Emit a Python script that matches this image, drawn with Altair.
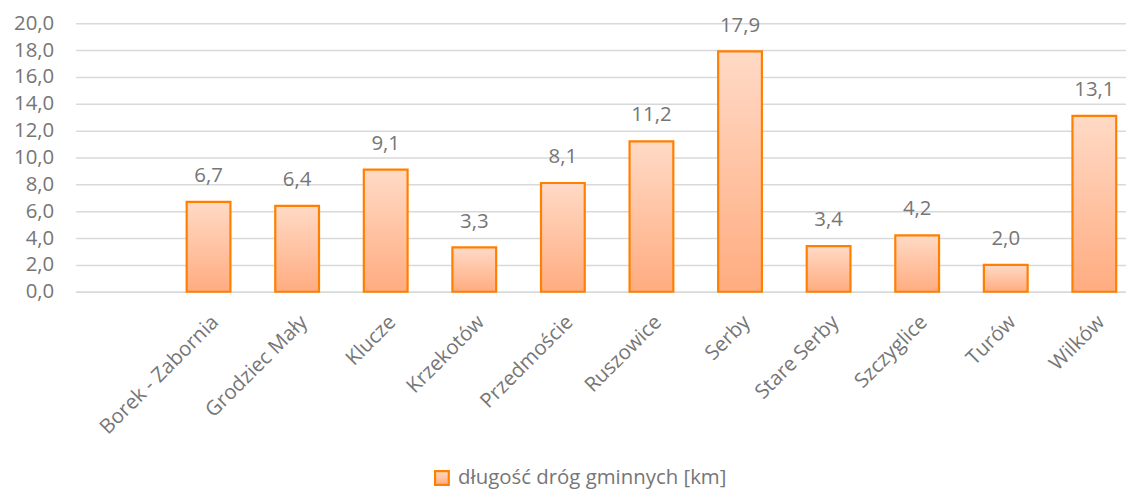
import altair as alt
import pandas as pd

categories = ["Borek - Zabornia", "Grodziec Mały", "Klucze", "Krzekotów", "Przedmoście",
              "Ruszowice", "Serby", "Stare Serby", "Szczyglice", "Turów", "Wilków"]
values = [6.7, 6.4, 9.1, 3.3, 8.1, 11.2, 17.9, 3.4, 4.2, 2.0, 13.1]
series_name = "długość dróg gminnych [km]"
y_ticks = [0, 2, 4, 6, 8, 10, 12, 14, 16, 18, 20]

df = pd.DataFrame({"kategoria": categories, "wartosc": values, "seria": series_name})

FONT = "Open Sans"
TXT = "#767676"
FS = 20.5

gradient = {
    "x1": 0, "y1": 0, "x2": 0, "y2": 1, "gradient": "linear",
    "stops": [{"offset": 0, "color": "#FFDAC6"}, {"offset": 1, "color": "#FFAC80"}],
}

x_enc = alt.X(
    "kategoria:N",
    sort=categories,
    title=None,
    scale=alt.Scale(paddingInner=0.506, paddingOuter=0.682, align=0.919),
    axis=alt.Axis(labelAngle=-45, labelFontSize=FS, labelFont=FONT, labelColor=TXT,
                  ticks=False, domainColor="#D9D9D9", domainWidth=1.5, labelPadding=20,
                  labelLimit=0, labelOverlap=False),
)
y_enc = alt.Y(
    "wartosc:Q",
    title=None,
    scale=alt.Scale(domain=[0, 20], nice=False),
    axis=alt.Axis(values=y_ticks, tickCount=11,
                  labelExpr="replace(format(datum.value, '.1f'), '.', ',')",
                  labelFontSize=FS, labelFont=FONT, labelColor=TXT, ticks=False, domain=False,
                  gridColor="#D9D9D9", gridWidth=1.5, labelPadding=22, labelOverlap=False),
)

bars = alt.Chart(df).mark_bar(color=gradient, strokeWidth=2.2).encode(
    x=x_enc,
    y=y_enc,
    stroke=alt.Stroke("seria:N", title=None,
                      scale=alt.Scale(range=["#FF8000"]),
                      legend=alt.Legend(orient="none", legendX=358, legendY=447, padding=0,
                                        symbolType="square", symbolSize=190,
                                        symbolFillColor="#FFC2A2", symbolStrokeWidth=2.2,
                                        labelFontSize=FS, labelFont=FONT, labelColor=TXT,
                                        labelOffset=6, labelLimit=0)),
)

labels = alt.Chart(df).transform_calculate(
    lbl="replace(format(datum.wartosc, '.1f'), '.', ',')"
).mark_text(baseline="middle", dy=-26, fontSize=FS, font=FONT, color=TXT).encode(
    x=x_enc,
    y=y_enc,
    text="lbl:N",
)

chart = (bars + labels).properties(
    width=1056, height=270,
    autosize=alt.AutoSizeParams(type="none"),
    padding={"left": 68, "top": 14, "right": 0, "bottom": 198},
).configure_view(stroke=None)

chart.save("out.html", embed_options={"renderer": "svg", "actions": False})
